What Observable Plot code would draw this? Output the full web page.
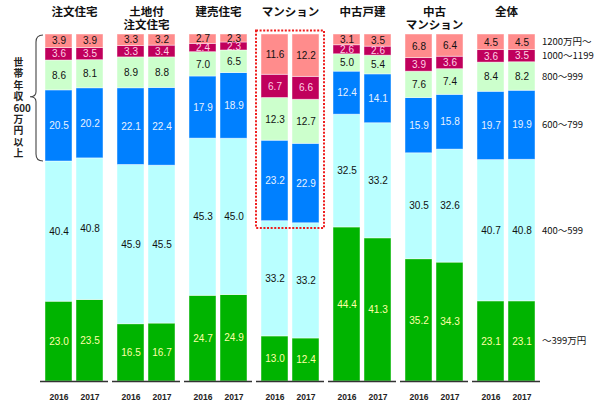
<!DOCTYPE html>
<html>
<head>
<meta charset="utf-8">
<script src="https://cdn.jsdelivr.net/npm/d3@7"></script>
<script src="https://cdn.jsdelivr.net/npm/@observablehq/plot@0.6"></script>
<style>
  html, body { margin: 0; padding: 0; background: #fff; }
  #chart svg { display: block; }
</style>
</head>
<body>
<div id="chart"></div>
<script>
// ---- data ----
const groups = ["注文住宅", "土地付\n注文住宅", "建売住宅", "マンション", "中古戸建", "中古\nマンション", "全体"];
const years = ["2016", "2017"];
const series = ["～399万円", "400～599", "600～799", "800～999", "1000～1199", "1200万円～"];
const colors = ["#00b400", "#b9ffff", "#0080ff", "#ccffcc", "#c0005c", "#ff8c8c"];
const labelColors = ["#ffffa8", "#111111", "#e8f2ff", "#111111", "#ffd0e4", "#111111"];

// values per group, bottom (～399) to top (1200～)
const values2016 = [
  [23.0, 40.4, 20.5, 8.6, 3.6, 3.9],
  [16.5, 45.9, 22.1, 8.9, 3.3, 3.3],
  [24.7, 45.3, 17.9, 7.0, 2.4, 2.7],
  [13.0, 33.2, 23.2, 12.3, 6.7, 11.6],
  [44.4, 32.5, 12.4, 5.0, 2.6, 3.1],
  [35.2, 30.5, 15.9, 7.6, 3.9, 6.8],
  [23.1, 40.7, 19.7, 8.4, 3.6, 4.5]
];
const values2017 = [
  [23.5, 40.8, 20.2, 8.1, 3.5, 3.9],
  [16.7, 45.5, 22.4, 8.8, 3.4, 3.2],
  [24.9, 45.0, 18.9, 6.5, 2.3, 2.3],
  [12.4, 33.2, 22.9, 12.7, 6.6, 12.2],
  [41.3, 33.2, 14.1, 5.4, 2.6, 3.5],
  [34.3, 32.6, 15.8, 7.4, 3.6, 6.4],
  [23.1, 40.8, 19.9, 8.2, 3.5, 4.5]
];
const sideLabel = "世\n帯\n年\n収\n600\n万\n円\n以\n上";
const highlightGroup = "マンション";

// ---- build table (normalized stacking) ----
const rows = [];
groups.forEach((g, gi) => {
  [values2016, values2017].forEach((vals, yi) => {
    const v = vals[gi];
    const total = d3.sum(v);
    let cum = 0;
    v.forEach((value, si) => {
      const y1 = cum / total * 100;
      cum += value;
      const y2 = cum / total * 100;
      rows.push({group: g, year: years[yi], series: series[si], si, value, y1, y2, mid: (y1 + y2) / 2});
    });
  });
});

const legendRows = rows.filter(d => d.group === "全体" && d.year === "2017");
const yearRows = groups.flatMap(g => years.map(y => ({group: g, year: y})));
const hiRows = rows.filter(d => d.group === highlightGroup && d.si === 1);
const highlight = [{group: highlightGroup, y1: d3.min(hiRows, d => d.y2) - 1.5, y2: 101}];

const textMarks = series.map((s, si) =>
  Plot.text(rows.filter(d => d.si === si), {
    fx: "group", x: "year", y: "mid",
    text: d => d.value.toFixed(1),
    fill: labelColors[si],
    fontSize: 10,
    fontFamily: "Liberation Sans, Arial, sans-serif"
  })
);

const plot = Plot.plot({
  width: 600,
  height: 411,
  marginLeft: 39,
  marginRight: 59,
  marginTop: 34,
  marginBottom: 30,
  style: {fontFamily: "'Noto Sans CJK JP', sans-serif", background: "#fff", overflow: "visible"},
  fx: {domain: groups, paddingInner: 0.06, paddingOuter: 0, axis: null, label: null},
  x: {domain: years, paddingInner: 0.129, paddingOuter: 0.161, axis: null, label: null},
  y: {domain: [0, 100], axis: null},
  color: {domain: series, range: colors},
  marks: [
    Plot.rectY(rows, {
      fx: "group", x: "year", y1: "y1", y2: "y2", fill: "series",
      stroke: "#ffffff", strokeOpacity: 0.55, strokeWidth: 0.8
    }),
    ...textMarks,
    Plot.ruleY([0], {stroke: "#333", strokeWidth: 1.6}),
    Plot.text(yearRows, {
      fx: "group", x: "year", text: "year", frameAnchor: "bottom", dy: 18,
      fontSize: 8.5, fontWeight: "bold", fill: "#222",
      fontFamily: "Liberation Sans, Arial, sans-serif"
    }),
    Plot.text(groups, {
      fx: d => d, text: d => d, frameAnchor: "top", lineAnchor: "top", dy: -27,
      fontSize: 11.5, fontWeight: "bold", lineHeight: 1.1, fill: "#111"
    }),
    Plot.text(legendRows, {
      fx: "group", x: "year", y: "mid", text: "series", textAnchor: "start", dx: 20,
      fontSize: 9.5, fill: "#111"
    }),
    Plot.rect(highlight, {
      fx: "group", y1: "y1", y2: "y2", fill: "none", stroke: "#ee1c1c",
      strokeWidth: 2, strokeDasharray: "2,1.6"
    }),
    Plot.text([{group: groups[0], t: sideLabel}], {
      fx: "group", text: "t", frameAnchor: "top-left", dx: -27, dy: 23,
      lineAnchor: "top", fontSize: 9.8, lineHeight: 1.17, fontWeight: "bold", fill: "#222"
    })
  ]
});

document.getElementById("chart").appendChild(plot);

// curly brace, positioned through the plot's scales
(function () {
  const y = plot.scale("y");
  const fx = plot.scale("fx");
  const first = rows.filter(d => d.group === groups[0] && d.year === "2016" && d.si === 2)[0];
  const top = y.apply(100) + 1;
  const bot = y.apply(first.y1);
  const x0 = fx.apply(groups[0]);
  const xv = x0 - 4;      // vertical line
  const xe = x0 + 3;      // curl end
  const xt = x0 - 10;     // tip
  const ym = top + (bot - top) * 0.49;
  const p = d3.path();
  p.moveTo(xe, top);
  p.quadraticCurveTo(xv, top, xv, top + 7);
  p.lineTo(xv, ym - 5);
  p.quadraticCurveTo(xv, ym, xt, ym);
  p.quadraticCurveTo(xv, ym, xv, ym + 5);
  p.lineTo(xv, bot - 7);
  p.quadraticCurveTo(xv, bot, xe, bot);
  d3.select(plot).append("path")
    .attr("d", p.toString())
    .attr("fill", "none")
    .attr("stroke", "#444")
    .attr("stroke-width", 1.1);
})();
</script>
</body>
</html>
